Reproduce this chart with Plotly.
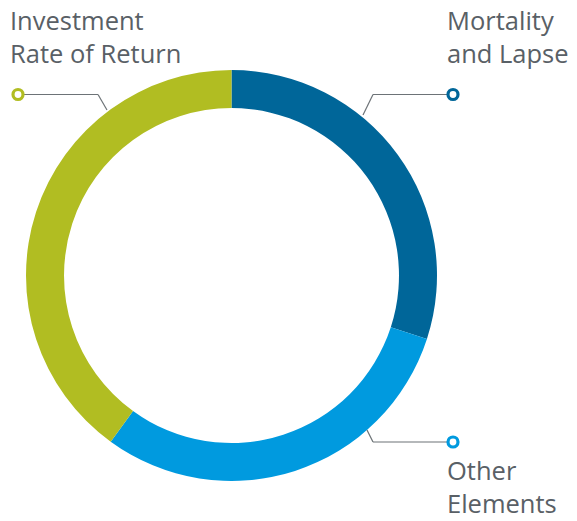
import plotly.graph_objects as go

labels = ["Mortality and Lapse", "Other Elements", "Investment Rate of Return"]
values = [30, 30, 40]
colors = ["#006699", "#009ADF", "#B1BD22"]

W, H = 577, 521
CX, CY, R = 231.5, 275.5, 205.5

def px(x):
    return x / W

def py(y):
    return 1 - y / H

fig = go.Figure()
fig.add_trace(go.Pie(
    labels=labels, values=values, sort=False, direction="clockwise", rotation=0,
    hole=0.815, textinfo="none", hoverinfo="label+percent",
    marker=dict(colors=colors, line=dict(width=0)),
    domain=dict(x=[px(CX - R), px(CX + R)], y=[py(CY + R), py(CY - R)]),
    showlegend=False,
))

line_col = "#6d7377"
text_col = "#596066"
shapes = []
# leader lines: (circle center, elbow, end at ring, color)
leaders = [
    ((18, 94.5), (98, 94.5), (107, 110), colors[2]),
    ((453, 94.5), (373, 94.5), (363, 115), colors[0]),
    ((453, 442), (373, 442), (367, 430), colors[1]),
]
for (c, e, t, col) in leaders:
    shapes.append(dict(type="line", xref="paper", yref="paper",
                       x0=px(c[0]), y0=py(c[1]), x1=px(e[0]), y1=py(e[1]),
                       line=dict(color=line_col, width=1.2)))
    shapes.append(dict(type="line", xref="paper", yref="paper",
                       x0=px(e[0]), y0=py(e[1]), x1=px(t[0]), y1=py(t[1]),
                       line=dict(color=line_col, width=1.2)))
    shapes.append(dict(type="circle", xref="paper", yref="paper",
                       x0=px(c[0] - 5), y0=py(c[1] + 5), x1=px(c[0] + 5), y1=py(c[1] - 5),
                       fillcolor="white", line=dict(color=col, width=3.2)))

texts = [
    ("Investment<br>Rate of Return", 9, 2, "top"),
    ("Mortality<br>and Lapse", 446, 2, "top"),
    ("Other<br>Elements", 446, 521, "bottom"),
]
annotations = []
for t, x, y, ya in texts:
    annotations.append(dict(text=t, x=px(x), y=py(y), xref="paper", yref="paper",
                            xanchor="left", yanchor=ya, align="left", showarrow=False,
                            borderpad=0,
                            font=dict(family="Open Sans", size=25.5, color=text_col)))

fig.update_layout(
    width=W, height=H, margin=dict(l=0, r=0, t=0, b=0),
    paper_bgcolor="white", plot_bgcolor="white",
    shapes=shapes, annotations=annotations,
)
fig.write_html("out.html", config={"displayModeBar": False},
               post_script="document.body.style.margin='0';document.body.style.overflow='hidden';")
